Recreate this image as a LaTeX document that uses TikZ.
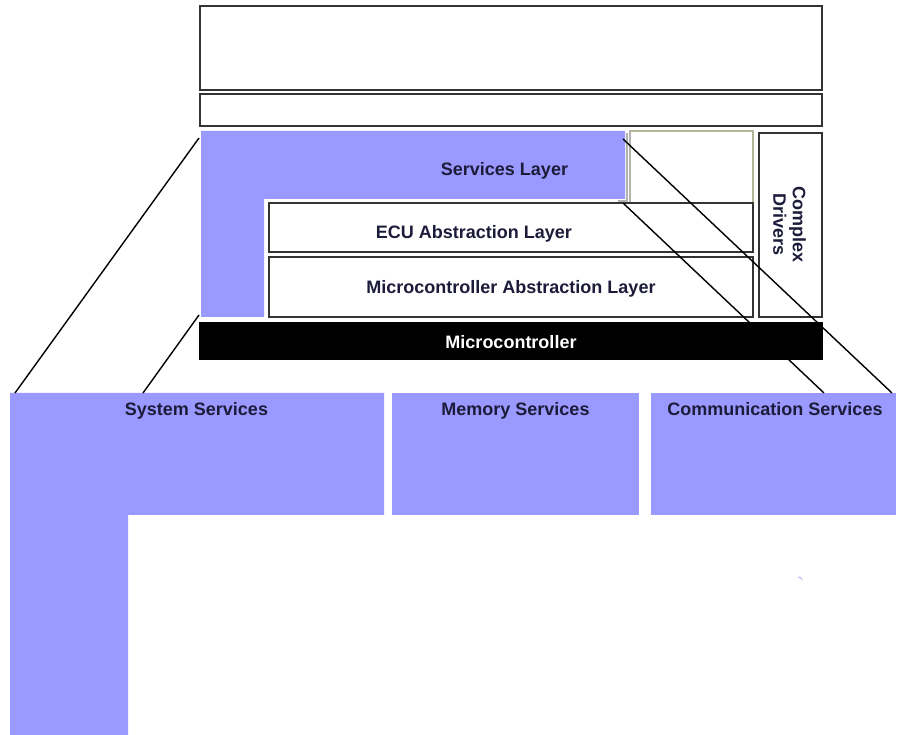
\documentclass[tikz,border=0pt]{standalone}
\usepackage{fontspec}
\setmainfont{Liberation Sans}
\definecolor{svcblue}{HTML}{9999FF}
\definecolor{boxgray}{HTML}{333333}
\definecolor{olivegray}{HTML}{B4B496}
\definecolor{txt}{HTML}{1C1C3A}
\begin{document}
\begin{tikzpicture}[x=1pt,y=-1pt,
  box/.style={draw=boxgray, line width=1.3pt, fill=white, inner sep=0pt, outer sep=0pt, anchor=north west},
  svc/.style={fill=svcblue, draw=none, inner sep=0pt, outer sep=0pt, anchor=north west},
  lbl/.style={font=\fontsize{18}{19}\selectfont\bfseries, text=txt, inner sep=0pt, anchor=base},
  conn/.style={draw=black, line width=1.4pt}]
\useasboundingbox (0,0) rectangle (906,735);
\fill[white] (0,0) rectangle (906,735);
% top layers
\node[box, minimum width=622, minimum height=84] (app) at (200,6) {};
\node[box, minimum width=622, minimum height=32] (rte) at (200,94) {};
% services layer L-shape
\fill[svcblue] (201,131) -- (625,131) -- (625,199) -- (264,199) -- (264,317) -- (201,317) -- cycle;
\draw[gray!60, line width=1.2pt] (627,133) -- (627,201) -- (618,201);
\node[lbl] (svclbl) at (504.5,175.5) {Services Layer};
% empty box
\node[box, draw=olivegray, minimum width=123, minimum height=121] (empty) at (630,131) {};
\draw[gray!60, line width=1.3pt] (empty.north west) -- (empty.south west);
% ECU and MCAL
\node[box, minimum width=484, minimum height=49] (ecu) at (269,203) {};
\node[lbl] (ecul) at (474,238.3) {ECU Abstraction Layer};
\node[box, minimum width=484, minimum height=60] (mcal) at (269,257) {};
\node[lbl] (mcall) at (511,294) {Microcontroller Abstraction Layer};
% complex drivers
\node[box, minimum width=63, minimum height=184] (cdd) at (759,133) {};
\node[lbl, anchor=center, rotate=-90, align=center, font=\fontsize{18}{19.5}\selectfont\bfseries] (cddl) at ([xshift=-1]cdd.center) {Complex\\Drivers};
% microcontroller
\node[box, fill=black, draw=black, minimum width=622, minimum height=36] (mcu) at (200,323) {};
\node[lbl, text=white] (mcul) at (511,348.3) {Microcontroller};
% bottom services
\fill[svcblue] (10,393) -- (384,393) -- (384,515) -- (128,515) -- (128,735) -- (10,735) -- cycle;
\node[lbl] (syslbl) at (196.5,415.5) {System Services};
\node[svc, minimum width=247, minimum height=122] (mem) at (392,393) {};
\node[lbl] (meml) at (515.5,415.5) {Memory Services};
\node[svc, minimum width=245, minimum height=122] (com) at (651,393) {};
\node[lbl] (coml) at (775,415.5) {Communication Services};
% tiny mark
\draw[svcblue!70, line width=1pt] (798,577) -- (801,578) -- (802,580);
% connectors
\coordinate (s1) at (199,138);
\coordinate (b1) at (15,393);
\coordinate (s2) at (199,315);
\coordinate (b2) at (143,393);
\coordinate (s3) at (623,139);
\coordinate (b3) at (892,393);
\coordinate (s4) at (623,203);
\coordinate (b4) at (824,393);
\draw[conn] (s1) -- (b1);
\draw[conn] (s2) -- (b2);
\draw[conn] (s3) -- (b3);
\draw[conn] (s4) -- (b4);
\end{tikzpicture}
\end{document}
